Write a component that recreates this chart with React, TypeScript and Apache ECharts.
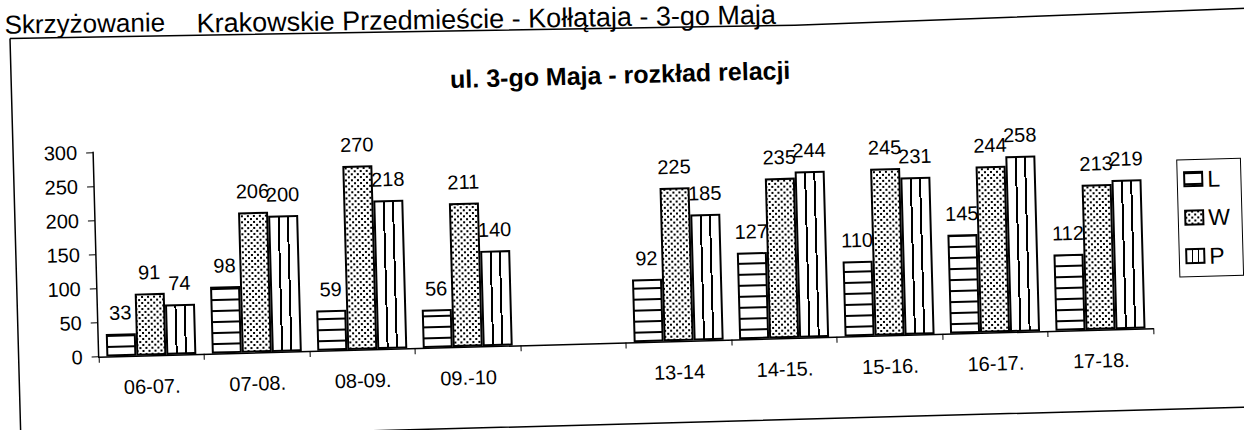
import React, { useEffect, useRef } from "react";
import * as echarts from "echarts";

const categories = ["06-07.", "07-08.", "08-09.", "09.-10", "", "13-14", "14-15.", "15-16.", "16-17.", "17-18."];
const seriesNames = ["L", "W", "P"];
const valuesL = [33, 98, 59, 56, null, 92, 127, 110, 145, 112];
const valuesW = [91, 206, 270, 211, null, 225, 235, 245, 244, 213];
const valuesP = [74, 200, 218, 140, null, 185, 244, 231, 258, 219];
const yMin = 0;
const yMax = 300;
const yStep = 50;
const headerLeft = "Skrzyżowanie";
const headerRight = "Krakowskie Przedmieście - Kołłątaja - 3-go Maja";
const chartTitle = "ul. 3-go Maja - rozkład relacji";

const FONT = "'Liberation Sans', Arial, sans-serif";

function makePattern(w: number, h: number, draw: (ctx: CanvasRenderingContext2D) => void) {
  const c = document.createElement("canvas");
  c.width = w;
  c.height = h;
  const ctx = c.getContext("2d")!;
  ctx.fillStyle = "#fff";
  ctx.fillRect(0, 0, w, h);
  ctx.fillStyle = "#000";
  draw(ctx);
  return c;
}

export default function App() {
  const ref = useRef<HTMLDivElement>(null);

  useEffect(() => {
    const el = ref.current!;
    const chart = echarts.init(el, null, { renderer: "svg" });

    const hatchL = makePattern(10, 11, (ctx) => ctx.fillRect(0, 0, 10, 2));
    const dotsW = makePattern(6, 6, (ctx) => {
      ctx.fillRect(0, 0, 2, 2);
      ctx.fillRect(3, 3, 2, 2);
    });
    const fillL = { image: hatchL, repeat: "repeat" };
    const fillW = { image: dotsW, repeat: "repeat" };
    const fillP = {
      type: "linear",
      x: 0,
      y: 0,
      x2: 1,
      y2: 0,
      colorStops: [
        { offset: 0, color: "#fff" },
        { offset: 0.3, color: "#fff" },
        { offset: 0.3, color: "#000" },
        { offset: 0.37, color: "#000" },
        { offset: 0.37, color: "#fff" },
        { offset: 0.63, color: "#fff" },
        { offset: 0.63, color: "#000" },
        { offset: 0.7, color: "#000" },
        { offset: 0.7, color: "#fff" },
        { offset: 1, color: "#fff" },
      ],
    };

    const label = {
      show: true,
      position: "top",
      distance: 11,
      fontSize: 20,
      color: "#000",
      fontFamily: FONT,
    };
    const mkSeries = (name: string, data: (number | null)[], color: any) => ({
      name,
      type: "bar",
      data,
      barWidth: 30,
      barGap: "0%",
      itemStyle: { color, borderColor: "#000", borderWidth: 2 },
      label,
    });

    chart.setOption({
      animation: false,
      textStyle: { fontFamily: FONT, color: "#000" },
      grid: { left: 115, right: 114, top: 158, bottom: 107.5 },
      legend: {
        orient: "vertical",
        left: 1198,
        top: 195,
        icon: "rect",
        itemWidth: 18,
        itemHeight: 14,
        itemGap: 15.5,
        padding: [8, 12, 9, 6],
        borderColor: "#000",
        borderWidth: 1,
        textStyle: { fontSize: 23, color: "#000", fontFamily: FONT, lineHeight: 23 },
        data: seriesNames,
      },
      xAxis: {
        type: "category",
        data: categories,
        axisLine: { lineStyle: { color: "#000", width: 1.5 } },
        axisTick: { show: true, length: 6, lineStyle: { color: "#000" } },
        axisLabel: { margin: 21, fontSize: 20, color: "#000", fontFamily: FONT, interval: 0 },
      },
      yAxis: {
        type: "value",
        min: yMin,
        max: yMax,
        interval: yStep,
        axisLine: { show: true, lineStyle: { color: "#000", width: 1.5 } },
        axisTick: { show: true, length: 7, lineStyle: { color: "#000" } },
        splitLine: { show: false },
        axisLabel: { margin: 16, fontSize: 20, color: "#000", fontFamily: FONT },
      },
      graphic: [
        {
          type: "polyline",
          silent: true,
          shape: { points: [[35, 42], [820, 50], [1300, 45]] },
          style: { fill: "none", stroke: "#000", lineWidth: 1.5 },
        },
        {
          type: "polyline",
          silent: true,
          shape: { points: [[35, 42], [35, 444], [1300, 444]] },
          style: { fill: "none", stroke: "#000", lineWidth: 1.5 },
        },
        {
          type: "text",
          x: 30,
          y: 28,
          rotation: -0.012,
          style: {
            text: headerLeft,
            fontSize: 26,
            fontFamily: FONT,
            fill: "#000",
            align: "left",
            verticalAlign: "middle",
          },
        },
        {
          type: "text",
          x: 222,
          y: 32,
          rotation: -0.012,
          style: {
            text: headerRight,
            fontSize: 27,
            fontFamily: FONT,
            fill: "#000",
            align: "left",
            verticalAlign: "middle",
          },
        },
        {
          type: "text",
          x: 644,
          y: 94.5,
          style: {
            text: chartTitle,
            fontSize: 25,
            fontWeight: "bold",
            fontFamily: FONT,
            fill: "#000",
            align: "center",
            verticalAlign: "middle",
          },
        },
      ],
      series: [mkSeries("L", valuesL, fillL), mkSeries("W", valuesW, fillW), mkSeries("P", valuesP, fillP)],
    });

    return () => chart.dispose();
  }, []);

  return (
    <div
      ref={ref}
      style={{
        position: "absolute",
        left: -20,
        top: -20,
        width: 1284,
        height: 470,
        transform: "rotate(-1.55deg)",
        transformOrigin: "50% 50%",
        background: "#fff",
      }}
    />
  );
}
